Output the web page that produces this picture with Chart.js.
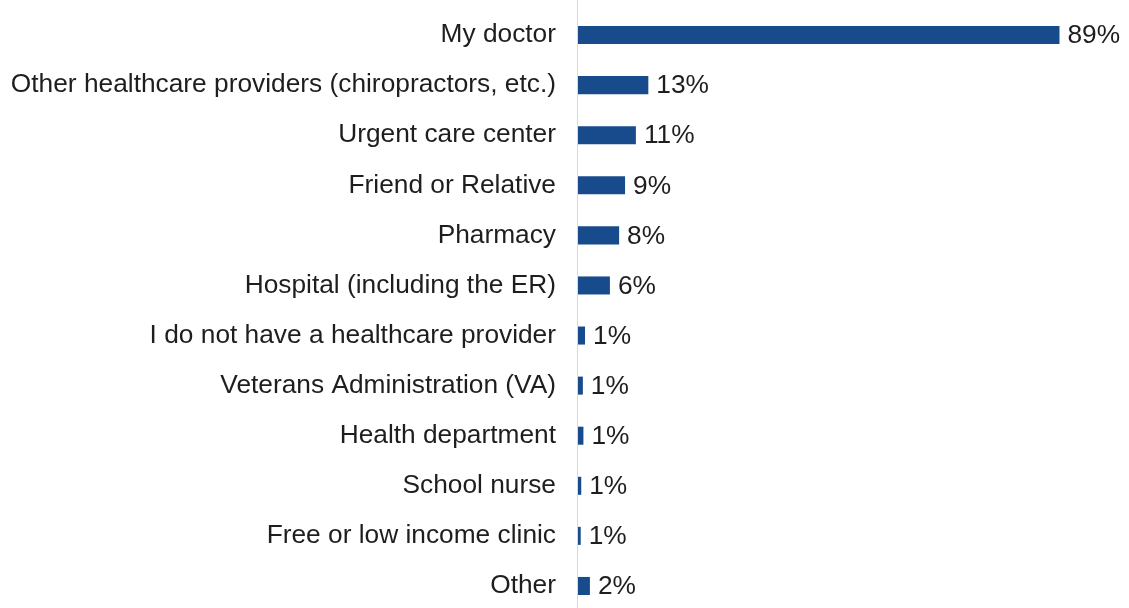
<!DOCTYPE html>
<html>
<head>
<meta charset="utf-8">
<script src="https://cdn.jsdelivr.net/npm/chart.js@4"></script>
<style>
  html, body { margin: 0; padding: 0; background: #fff; overflow: hidden; }
  #wrap { width: 1129px; height: 611px; }
</style>
</head>
<body>
<div id="wrap"><canvas id="sources-chart"></canvas></div>
<script>
// Where people get health information - horizontal bars

const categories = [
    "My doctor",
    "Other healthcare providers (chiropractors, etc.)",
    "Urgent care center",
    "Friend or Relative",
    "Pharmacy",
    "Hospital (including the ER)",
    "I do not have a healthcare provider",
    "Veterans Administration (VA)",
    "Health department",
    "School nurse",
    "Free or low income clinic",
    "Other"
];

const shares = [89, 13, 10.7, 8.7, 7.6, 5.9, 1.3, 0.9, 1.0, 0.6, 0.5, 2.2];

const barColor = "#174b8c";
const textColor = "#1e1e1e";
const fontFamily = "'Liberation Sans', Arial, sans-serif";
const fontSize = 26.3;

// draws the "89%" labels at the end of each bar
const barValueLabels = {
    id: 'barValueLabels',
    afterDatasetsDraw(chart) {
        const ctx = chart.ctx;
        const meta = chart.getDatasetMeta(0);
        ctx.save();
        ctx.font = fontSize + "px " + fontFamily;
        ctx.fillStyle = textColor;
        ctx.textAlign = 'left';
        ctx.textBaseline = 'middle';
        for (let i = 0; i < meta.data.length; i++) {
            const bar = meta.data[i];
            const val = Math.round(chart.data.datasets[0].data[i]);
            ctx.fillText(val + "%", bar.x + 8, bar.y + 1);
        }
        ctx.restore();
    }
};

// thin grey axis line, running the full height of the picture
const axisLine = {
    id: 'axisLine',
    beforeDatasetsDraw(chart) {
        const ctx = chart.ctx;
        const x = Math.round(chart.chartArea.left) - 0.5;
        ctx.save();
        ctx.strokeStyle = '#d9d9d9';
        ctx.lineWidth = 1;
        ctx.beginPath();
        ctx.moveTo(x, 0);
        ctx.lineTo(x, chart.height);
        ctx.stroke();
        ctx.restore();
    }
};

function setUpChart() {
    const ctx = document.getElementById("sources-chart").getContext('2d');

    const data = {
        labels: categories,
        datasets: [
            {
                data: shares,
                backgroundColor: barColor,
                categoryPercentage: 1.0,
                barPercentage: 0.36,
            },
        ],
    };

    const config = {
        type: 'bar',
        data: data,
        options: {
            indexAxis: 'y',
            responsive: true,
            maintainAspectRatio: false,
            animation: false,
            layout: { padding: { top: 10, right: 10, bottom: 0, left: 0 } },
            plugins: {
                legend: { display: false },
                tooltip: { enabled: false },
            },
            scales: {
                x: {
                    min: 0,
                    max: 100,
                    display: false,
                },
                y: {
                    grid: {
                        display: true,
                        drawOnChartArea: false,
                        drawTicks: true,
                        tickLength: 22,
                        color: 'transparent',
                    },
                    border: { display: false },
                    ticks: {
                        color: textColor,
                        padding: 0,
                        font: { family: fontFamily, size: fontSize },
                    },
                    afterFit(scale) {
                        scale.width = 578;
                        scale.paddingTop = 0;
                        scale.paddingBottom = 0;
                    },
                },
            },
        },
        plugins: [axisLine, barValueLabels],
    };

    new Chart(ctx, config);
}

setUpChart();
</script>
</body>
</html>
